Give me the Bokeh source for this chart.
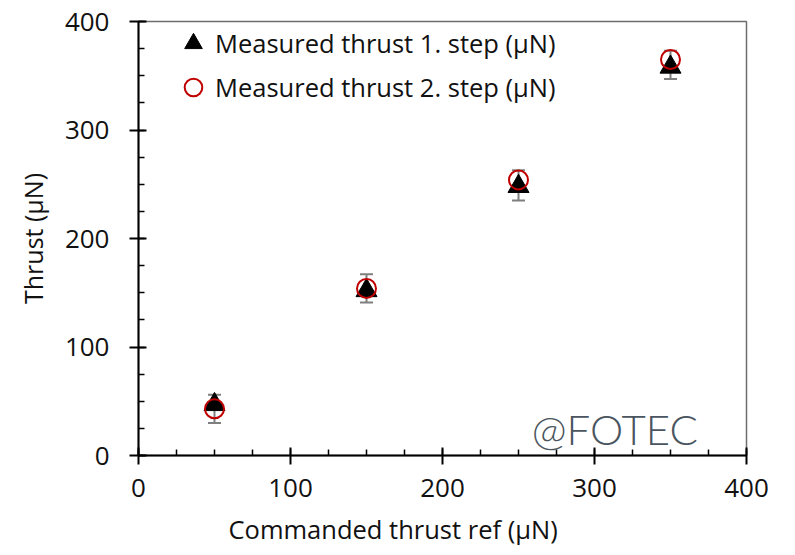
from bokeh.plotting import figure
from bokeh.models import (ColumnDataSource, Whisker, TeeHead, Legend, LegendItem,
                          Label, FixedTicker, Range1d, Title)
from bokeh.embed import file_html
from bokeh.resources import INLINE

# data
commanded = [50, 150, 250, 350]
thrust_step1 = [47, 152, 248, 358]
thrust_step2 = [43, 154, 254, 365]
err_lower = [30, 141, 235, 347]
err_upper = [56, 167, 263, 373]
x_ticks = [0, 100, 200, 300, 400]
y_ticks = [0, 100, 200, 300, 400]

FONT = "Open Sans"

p = figure(width=795, height=555, output_backend="svg", toolbar_location=None,
           x_range=Range1d(0, 400), y_range=Range1d(0, 400),
           min_border_left=138, min_border_right=49, min_border_top=21, min_border_bottom=99)
p.grid.visible = False
p.outline_line_color = "#6e6e6e"
p.outline_line_width = 1.5
p.background_fill_color = "white"
p.border_fill_color = "white"

for ax in (p.xaxis[0], p.yaxis[0]):
    ax.axis_line_color = "black"
    ax.axis_line_width = 2
    ax.major_tick_line_color = "black"
    ax.major_tick_line_width = 2
    ax.major_tick_in = 8
    ax.major_tick_out = 9
    ax.minor_tick_line_color = "black"
    ax.minor_tick_line_width = 1.5
    ax.minor_tick_in = 6
    ax.minor_tick_out = 0
    ax.major_label_text_font = FONT
    ax.major_label_text_font_size = "26px"
    ax.major_label_text_color = "#111111"
    ax.axis_label_text_font = FONT
    ax.axis_label_text_font_size = "25px"
    ax.axis_label_text_font_style = "normal"
    ax.axis_label_text_color = "#111111"

p.xaxis.ticker = FixedTicker(ticks=x_ticks, minor_ticks=list(range(0, 401, 25)))
p.yaxis.ticker = FixedTicker(ticks=y_ticks, minor_ticks=list(range(0, 401, 25)))
p.yaxis.axis_label = "Thrust (μN)"
p.xaxis.major_label_standoff = 14
p.yaxis.major_label_standoff = 20
p.yaxis.axis_label_standoff = 12

# x-axis title (offset to the left as in the reference)
xt = Title(text="Commanded thrust ref (μN)", align="left", offset=90, standoff=20,
           text_font=FONT, text_font_size="25.5px", text_font_style="normal",
           text_color="#111111")
p.add_layout(xt, "below")

src_err = ColumnDataSource(dict(x=commanded, lo=err_lower, hi=err_upper))
w = Whisker(source=src_err, base="x", lower="lo", upper="hi",
            line_color="#7f7f7f", line_width=2,
            upper_head=TeeHead(size=13, line_color="#7f7f7f", line_width=2),
            lower_head=TeeHead(size=13, line_color="#7f7f7f", line_width=2))
p.add_layout(w)

r1 = p.scatter(commanded, thrust_step1, marker="triangle", size=21,
               fill_color="black", line_color="black")
r2 = p.scatter(commanded, thrust_step2, marker="circle", size=19,
               fill_color=None, line_color="#c00000", line_width=2)

legend = Legend(items=[LegendItem(label="Measured thrust 1. step (μN)", renderers=[r1]),
                       LegendItem(label="Measured thrust 2. step (μN)", renderers=[r2])],
                location=(33, 346), margin=0, padding=0,
                border_line_color=None, background_fill_alpha=0,
                label_text_font=FONT, label_text_font_size="25.5px",
                label_text_color="#111111",
                glyph_width=44, glyph_height=44, label_height=44,
                label_standoff=-7, spacing=-1)
p.add_layout(legend)

wm = Label(x=368, y=24, text="@FOTEC", text_align="right", text_baseline="alphabetic",
           text_font="Lato Light", text_font_size="42px", text_color="#4a5560")
p.add_layout(wm)

open("out.html", "w").write(file_html(p, INLINE))
